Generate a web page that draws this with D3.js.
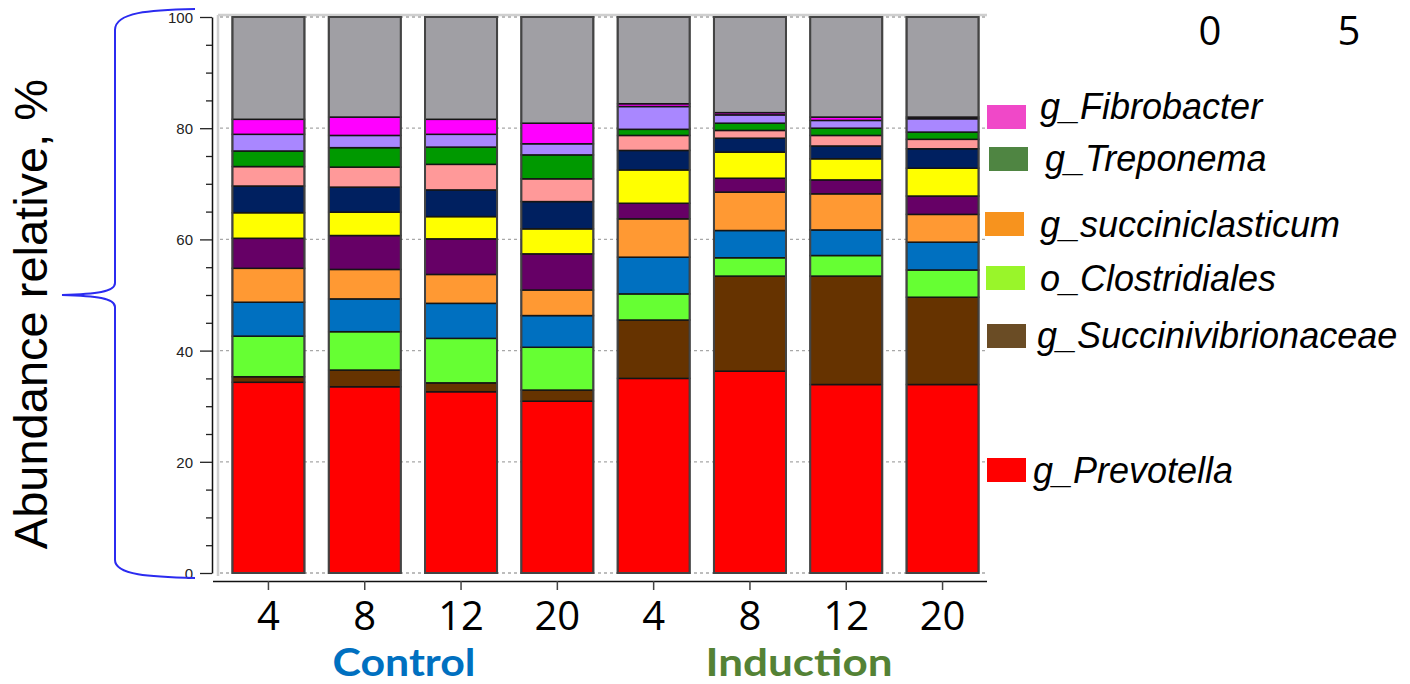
<!DOCTYPE html>
<html>
<head>
<meta charset="utf-8">
<script src="https://cdn.jsdelivr.net/npm/d3@7"></script>
<style>
  html, body { margin: 0; padding: 0; background: #fff; }
  svg { display: block; }
</style>
</head>
<body>
<svg id="chart" width="1410" height="684"></svg>
<script>
// ---------------- DATA ----------------
const categories = ["C4", "C8", "C12", "C20", "I4", "I8", "I12", "I20"];
const tickLabels = ["4", "8", "12", "20", "4", "8", "12", "20"];
const groupLabels = ["Control", "Induction"];
const yTicks = [0, 20, 40, 60, 80, 100];

// stacked from bottom to top
const seriesKeys = ["g_Prevotella", "g_Succinivibrionaceae", "o_Clostridiales", "taxon_blue",
  "g_succiniclasticum", "taxon_purple", "taxon_yellow", "taxon_navy", "taxon_pink",
  "g_Treponema", "taxon_lavender", "g_Fibrobacter", "others"];
const seriesColors = ["#ff0000", "#663300", "#66ff33", "#0070c0", "#ff9933", "#660066",
  "#ffff00", "#002060", "#ff9999", "#009900", "#a987ff", "#ff00ff", "#a09fa4"];

const prevotella          = [34.3, 33.5, 32.6, 30.9, 35.0, 36.3, 33.9, 33.9];
const succinivibrionaceae = [1.0, 3.0, 1.6, 2.0, 10.5, 17.1, 19.5, 15.7];
const clostridiales       = [7.3, 6.9, 8.0, 7.7, 4.7, 3.3, 3.7, 4.9];
const blueTaxon           = [6.1, 5.9, 6.3, 5.7, 6.6, 4.9, 4.6, 5.0];
const succiniclasticum    = [6.1, 5.3, 5.2, 4.6, 6.9, 6.9, 6.5, 5.0];
const purpleTaxon         = [5.4, 6.1, 6.4, 6.5, 2.8, 2.5, 2.5, 3.3];
const yellowTaxon         = [4.6, 4.2, 4.0, 4.5, 6.0, 4.7, 3.8, 5.0];
const navyTaxon           = [4.8, 4.5, 4.8, 4.9, 3.5, 2.5, 2.3, 3.5];
const pinkTaxon           = [3.5, 3.6, 4.6, 4.1, 2.7, 1.4, 1.9, 1.7];
const treponema           = [2.8, 3.5, 3.1, 4.3, 1.1, 1.3, 1.3, 1.3];
const lavenderTaxon       = [3.0, 2.2, 2.3, 2.0, 4.1, 1.5, 1.4, 2.4];
const fibrobacter         = [2.7, 3.3, 2.7, 3.7, 0.5, 0.4, 0.6, 0.3];
const others              = [18.4, 18.0, 18.4, 19.1, 15.6, 17.2, 18.0, 18.0];

const seriesValues = [prevotella, succinivibrionaceae, clostridiales, blueTaxon, succiniclasticum,
  purpleTaxon, yellowTaxon, navyTaxon, pinkTaxon, treponema, lavenderTaxon, fibrobacter, others];

const legendLabels = ["g_Fibrobacter", "g_Treponema", "g_succiniclasticum", "o_Clostridiales",
  "g_Succinivibrionaceae", "g_Prevotella"];
const legendColors = ["#f048c8", "#4f8542", "#f7931e", "#99f52a", "#6a4c25", "#ff0000"];
const topRightLabels = ["0", "5"];

// ---------------- LAYOUT ----------------
const svg = d3.select("#chart");
const plot = { left: 218, right: 987, top: 17, bottom: 573 };

const x = d3.scaleBand().domain(categories).range([221, 990])
  .paddingInner(0.252).paddingOuter(0.1186);
const y = d3.scaleLinear().domain([0, 100]).range([plot.bottom, plot.top]);

// table for stacking
const table = categories.map((c, i) => {
  const row = { cat: c };
  seriesKeys.forEach((k, j) => row[k] = seriesValues[j][i]);
  return row;
});
const stacked = d3.stack().keys(seriesKeys)(table);
const color = d3.scaleOrdinal().domain(seriesKeys).range(seriesColors);

// frame (light grey)
svg.append("line").attr("x1", plot.left).attr("x2", plot.right).attr("y1", 15).attr("y2", 15)
  .attr("stroke", "#cfcfcf").attr("stroke-width", 2.5);
svg.append("line").attr("x1", plot.left).attr("x2", plot.left).attr("y1", 15).attr("y2", 576)
  .attr("stroke", "#cfcfcf").attr("stroke-width", 2.5);

// gridlines
svg.append("g").selectAll("line").data(yTicks).join("line")
  .attr("x1", plot.left + 2).attr("x2", plot.right)
  .attr("y1", d => y(d)).attr("y2", d => y(d))
  .attr("stroke", "#a8a8a8").attr("stroke-width", 1.3).attr("stroke-dasharray", "3,3");

// bars
const gBars = svg.append("g");
gBars.selectAll("g").data(stacked).join("g")
  .attr("fill", d => color(d.key))
  .selectAll("rect").data(d => d).join("rect")
  .attr("x", d => x(d.data.cat))
  .attr("width", x.bandwidth())
  .attr("y", d => y(d[1]))
  .attr("height", d => y(d[0]) - y(d[1]))
  .attr("stroke", "#151515").attr("stroke-width", 1.5);

// bar outlines
gBars.append("g").selectAll("rect").data(categories).join("rect")
  .attr("x", d => x(d)).attr("width", x.bandwidth())
  .attr("y", y(100)).attr("height", y(0) - y(100))
  .attr("fill", "none").attr("stroke", "#444").attr("stroke-width", 2);

// y axis
const yAxis = d3.axisLeft(y).tickValues(d3.range(0, 101, 5)).tickSizeOuter(0)
  .tickSize(0).tickFormat("");
const gy = svg.append("g").attr("transform", "translate(212,0)").call(yAxis);
gy.select(".domain").attr("stroke", "#111").attr("stroke-width", 1.5);
gy.selectAll(".tick line").attr("x2", d => d % 20 === 0 ? -12 : -6)
  .attr("stroke", "#222").attr("stroke-width", 1.3);
gy.selectAll(".tick").filter(d => d % 20 === 0).append("text")
  .attr("x", -19).attr("dy", "0.36em").attr("text-anchor", "end")
  .attr("fill", "#222").style("font", "15px 'Liberation Sans', Arial, sans-serif")
  .text(d => d);

// x axis
const xAxis = d3.axisBottom(x).tickSize(9).tickSizeOuter(0).tickFormat((d, i) => tickLabels[i]);
const gx = svg.append("g").attr("transform", "translate(0,581)").call(xAxis);
gx.select(".domain").attr("d", "M213,0.5H987").attr("stroke", "#111").attr("stroke-width", 1.5);
gx.selectAll(".tick line").attr("stroke", "#444").attr("stroke-width", 1.5);
gx.selectAll(".tick text").attr("y", 49).attr("dy", 0).attr("fill", "#000")
  .style("font", "40px 'Open Sans', sans-serif");

// group labels
const groupCenters = [404, 799];
const groupWidths = [143, 187];
const groupColors = ["#0070c0", "#548235"];
svg.append("g").selectAll("text").data(groupLabels).join("text")
  .attr("x", (d, i) => groupCenters[i] - groupWidths[i] / 2).attr("y", 676)
  .attr("textLength", (d, i) => groupWidths[i]).attr("lengthAdjust", "spacingAndGlyphs")
  .attr("fill", (d, i) => groupColors[i])
  .style("font", "bold 38px Lato, 'Open Sans', sans-serif")
  .text(d => d);

// y title
svg.append("text").attr("transform", "translate(47,314) rotate(-90)")
  .attr("text-anchor", "middle").attr("fill", "#000")
  .style("font", "47px 'Liberation Sans', Arial, sans-serif")
  .text("Abundance relative, %");

// blue brace
svg.append("path")
  .attr("d", "M195,9 C150,10 115,12 115,30 L115,283 C115,292 96,294 62,295 C96,296 115,298 115,307 L115,560 C115,575 150,577 195,578")
  .attr("fill", "none").attr("stroke", "#2b2bf0").attr("stroke-width", 2);

// legend
const legendSwatchY = [105, 147, 212, 266, 324, 458];
const legendSwatchX = [987, 989, 985, 986, 987, 987];
const legendTextX = [1040, 1045, 1040, 1040, 1037, 1033];
const legendBaseline = [119, 171, 237, 291, 348, 483];
const gl = svg.append("g");
gl.selectAll("rect").data(legendLabels).join("rect")
  .attr("x", (d, i) => legendSwatchX[i]).attr("y", (d, i) => legendSwatchY[i])
  .attr("width", 39).attr("height", 24)
  .attr("fill", (d, i) => legendColors[i]);
gl.selectAll("text").data(legendLabels).join("text")
  .attr("x", (d, i) => legendTextX[i]).attr("y", (d, i) => legendBaseline[i])
  .attr("fill", "#000")
  .style("font", "italic 36px 'Liberation Sans', Arial, sans-serif")
  .text(d => d);

// top-right numbers
const trX = [1210, 1349];
svg.append("g").selectAll("text").data(topRightLabels).join("text")
  .attr("x", (d, i) => trX[i]).attr("y", 45).attr("text-anchor", "middle")
  .attr("fill", "#000").style("font", "40px 'Open Sans', sans-serif")
  .text(d => d);
</script>
</body>
</html>
